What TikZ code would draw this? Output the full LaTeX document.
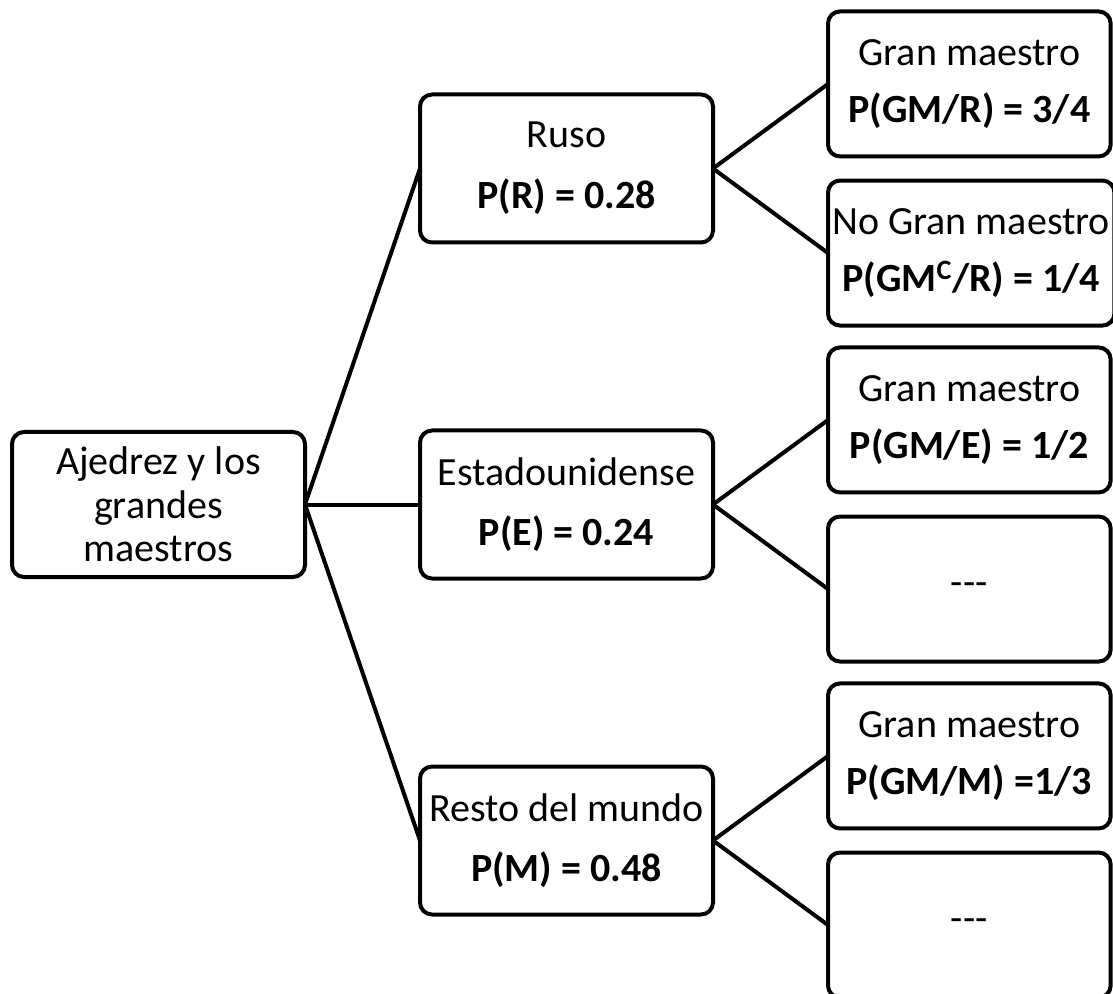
\documentclass[tikz,border=0pt]{standalone}
\usepackage{fontspec}
\setmainfont{Carlito}
\usetikzlibrary{positioning}

\begin{document}
\begin{tikzpicture}[x=0.75pt,y=-0.75pt,node distance=141pt and 86.25pt,line width=3pt,
  every node/.style={font=\fontsize{30}{32.5}\selectfont,align=center,outer sep=0pt}]
\useasboundingbox (0,0) rectangle (1113,994);
\clip (0,0) rectangle (1113,994);
\node[draw,rounded corners=9pt,minimum width=219.75pt,minimum height=108.75pt] (raiz) at (158.5,504.5) {Ajedrez y los\\grandes\\maestros};
\node[draw,rounded corners=9pt,minimum width=219.75pt,minimum height=111pt,right=of raiz] (eeuu) {Estadounidense\\[13pt]\textbf{P(E) = 0.24}};
\node[draw,rounded corners=9pt,minimum width=219.75pt,minimum height=111pt,above=of eeuu] (ruso) {Ruso\\[13pt]\textbf{P(R) = 0.28}};
\node[draw,rounded corners=9pt,minimum width=219.75pt,minimum height=111pt,below=of eeuu] (resto) {Resto del mundo\\[13pt]\textbf{P(M) = 0.48}};
% hojas
\node[draw,rounded corners=9pt,minimum width=212pt,minimum height=108.75pt,right=of ruso,yshift=63.4pt] (gmr) {Gran maestro\\[10pt]\textbf{P(GM/R) = 3/4}};
\node[draw,rounded corners=9pt,minimum width=212pt,minimum height=108.75pt,right=of ruso,yshift=-63.4pt] (nogmr) {No Gran maestro\\[10pt]\textbf{P(GM\textsuperscript{C}/R) = 1/4}};
\node[draw,rounded corners=9pt,minimum width=212pt,minimum height=108.75pt,right=of eeuu,yshift=63.4pt] (gme) {Gran maestro\\[10pt]\textbf{P(GM/E) = 1/2}};
\node[draw,rounded corners=9pt,minimum width=212pt,minimum height=108.75pt,right=of eeuu,yshift=-63.4pt] (nogme) {-\kern0pt-\kern0pt-};
\node[draw,rounded corners=9pt,minimum width=212pt,minimum height=108.75pt,right=of resto,yshift=63.4pt] (gmm) {Gran maestro\\[10pt]\textbf{P(GM/M) =1/3}};
\node[draw,rounded corners=9pt,minimum width=212pt,minimum height=108.75pt,right=of resto,yshift=-63.4pt] (nogmm) {-\kern0pt-\kern0pt-};
\draw (raiz.east)--(ruso.west);\draw (raiz.east)--(eeuu.west);\draw (raiz.east)--(resto.west);
\draw (ruso.east)--(gmr.west);\draw (ruso.east)--(nogmr.west);
\draw (eeuu.east)--(gme.west);\draw (eeuu.east)--(nogme.west);
\draw (resto.east)--(gmm.west);\draw (resto.east)--(nogmm.west);
\end{tikzpicture}
\end{document}
